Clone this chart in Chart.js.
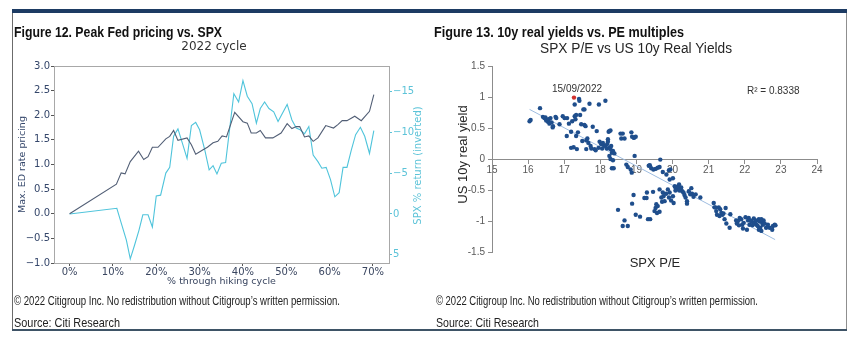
<!DOCTYPE html>
<html><head><meta charset="utf-8">
<script src="https://cdn.jsdelivr.net/npm/chart.js@4"></script>
<style>
html,body{margin:0;padding:0;background:#fff;}
#page{position:relative;width:853px;height:337px;overflow:hidden;background:#fff;}
.t{position:absolute;white-space:nowrap;line-height:1;}
canvas{position:absolute;top:0;}
</style></head><body>
<div id="page">
 <div style="position:absolute;left:12px;top:9px;width:835px;height:4px;background:#1d3b63"></div>
 <div style="position:absolute;left:12px;top:13px;width:1px;height:316px;background:#6b6b6b"></div>
 <div style="position:absolute;left:846px;top:13px;width:1px;height:316px;background:#8f8f8f"></div>
 <div style="position:absolute;left:12px;top:329px;width:835px;height:2px;background:#3e5366"></div>
 <canvas id="c1" width="430" height="337" style="left:0"></canvas>
 <canvas id="c2" width="423" height="337" style="left:430px"></canvas>
</div>
<script>
// ---------- Figure 12 data ----------
const pctTicks = [0, 10, 20, 30, 40, 50, 60, 70];
const fedTicks = [-1.0, -0.5, 0, 0.5, 1.0, 1.5, 2.0, 2.5, 3.0];
const spxTicks = [-15, -10, -5, 0, 5];
const pctFed = [0, 10.8, 11.9, 12.8, 14.0, 15.9, 17.1, 18.1, 19.1, 20.4, 22.2, 23.1, 24.0, 25.0, 27.1, 28.1, 29.1, 30.8, 31.8, 33.1, 34.2, 35.2, 36.2, 38.1, 40.0, 41.0, 41.9, 43.1, 44.0, 45.2, 46.9, 48.8, 50.2, 51.3, 52.3, 53.1, 54.2, 55.2, 56.2, 57.3, 59.1, 60.9, 61.9, 62.9, 64.0, 65.8, 67.3, 69.2, 70.2];
const fedPricing = [0.0, 0.60, 0.83, 0.81, 1.06, 1.27, 1.10, 1.16, 1.35, 1.35, 1.52, 1.57, 1.69, 1.49, 1.54, 1.40, 1.21, 1.30, 1.35, 1.44, 1.47, 1.58, 1.56, 2.06, 1.87, 1.84, 1.64, 1.64, 1.69, 1.54, 1.54, 1.64, 1.83, 1.73, 1.77, 1.77, 1.56, 1.58, 1.47, 1.54, 1.79, 1.74, 1.81, 1.89, 1.89, 1.98, 1.89, 2.08, 2.42];
const pctSpx = [0, 10.9, 11.9, 13.1, 14.0, 15.0, 16.0, 16.9, 18.1, 19.1, 20.0, 21.0, 22.2, 23.1, 24.0, 25.0, 26.0, 27.1, 28.1, 29.1, 30.0, 31.2, 32.2, 33.1, 34.0, 35.0, 36.0, 37.9, 39.0, 40.0, 41.0, 42.1, 43.1, 44.0, 45.0, 46.0, 47.1, 48.1, 50.2, 51.3, 52.3, 53.2, 54.2, 55.2, 56.2, 57.3, 58.2, 59.2, 60.2, 61.2, 62.2, 63.1, 64.0, 65.0, 66.0, 67.1, 68.1, 69.2, 70.2];
const spxReturn = [0, -0.7, 1.1, 3.2, 5.5, 3.8, 2.0, 0.1, 0.1, 1.6, -2.2, -2.3, -5.0, -5.7, -9.5, -10.4, -8.7, -6.8, -10.8, -11.2, -10.3, -7.8, -5.4, -5.9, -4.9, -6.2, -6.3, -14.7, -13.7, -16.3, -14.4, -13.5, -11.1, -12.9, -13.7, -12.9, -12.5, -11.3, -13.4, -11.5, -10.5, -10.3, -9.8, -10.7, -7.2, -6.4, -5.6, -5.7, -4.2, -2.1, -2.6, -5.7, -5.7, -7.8, -9.7, -10.6, -9.5, -7.4, -10.2];

// ---------- Figure 13 data ----------
const peTicks = [15, 16, 17, 18, 19, 20, 21, 22, 23, 24];
const yldTicks = [-1.5, -1, -0.5, 0, 0.5, 1, 1.5];
const peX = [16.04,16.07,16.33,16.41,16.45,16.48,16.50,16.55,16.57,16.59,16.62,16.65,16.68,16.69,16.76,16.78,16.87,16.96,17.01,17.07,17.08,17.13,17.19,17.19,17.22,17.26,17.29,17.29,17.31,17.33,17.33,17.35,17.38,17.41,17.42,17.44,17.47,17.50,17.53,17.56,17.56,17.59,17.61,17.61,17.64,17.67,17.70,17.73,17.75,17.79,17.84,17.87,17.90,17.95,17.96,17.98,18.02,18.05,18.07,18.10,18.14,18.14,18.18,18.19,18.21,18.21,18.23,18.25,18.28,18.25,18.28,18.30,18.32,18.35,18.39,18.25,18.28,18.35,18.32,18.37,18.56,18.58,18.62,18.67,18.86,18.88,18.93,18.98,18.95,
 18.72,18.76,18.84,18.87,19.34,19.37,19.41,19.47,19.53,19.59,19.64,19.66,19.73,19.83,19.90,19.94,19.92,20.01,
 18.49,18.62,18.67,18.76,18.88,18.92,18.98,19.10,19.22,19.28,19.29,19.32,19.38,19.46,19.50,19.53,19.55,19.57,19.59,19.64,19.64,19.69,19.71,19.73,19.75,19.78,19.82,19.87,19.90,19.92,19.96,20.01,20.03,20.06,20.08,20.10,20.12,20.15,20.18,20.21,20.24,20.27,20.30,20.33,20.36,20.40,20.45,20.49,20.52,20.54,20.58,20.77,20.40,20.64,20.08,20.19,
 21.14,21.16,21.19,21.21,21.23,21.28,21.32,21.35,21.38,21.41,21.44,21.47,21.49,21.60,21.58,21.30,21.76,21.78,21.81,21.84,21.86,21.90,21.93,21.95,21.97,22.02,22.06,22.09,22.11,22.13,22.15,22.18,22.21,22.23,22.25,22.27,22.30,22.32,22.34,22.36,22.39,22.41,22.43,22.46,22.48,22.50,22.52,22.55,22.46,22.39,22.59,22.69,22.78,22.83,22.85,22.76,22.64];
const realYld = [0.61,0.63,0.82,0.68,0.66,0.67,0.62,0.60,0.64,0.57,0.66,0.59,0.51,0.53,0.68,0.66,0.56,0.69,0.66,0.37,0.66,0.57,0.44,0.18,0.61,0.19,0.88,0.69,0.64,0.71,0.37,0.16,0.43,0.97,0.94,0.71,0.56,0.29,0.80,0.80,0.55,0.53,0.16,0.30,0.33,0.26,0.89,0.21,0.17,0.52,0.16,0.14,0.45,0.18,0.88,0.28,0.24,0.17,0.26,0.22,0.94,0.21,0.17,0.24,0.32,0.28,0.44,0.45,0.46,0.18,0.16,0.21,0.10,0.13,0.09,0.05,0.00,-0.02,-0.15,-0.15,0.41,0.33,0.41,0.33,0.43,0.36,0.34,0.36,0.05,
 -0.09,-0.13,-0.17,-0.22,-0.11,-0.10,-0.15,-0.17,-0.16,-0.14,-0.13,-0.01,-0.21,-0.25,-0.18,-0.17,-0.33,-0.31,
 -0.82,-1.08,-0.99,-1.08,-0.72,-0.58,-0.90,-0.93,-0.63,-0.63,-0.54,-0.97,-0.97,-0.53,-0.84,-0.79,-0.73,-0.87,-0.76,-0.85,-0.49,-0.62,-0.69,-0.54,-0.60,-0.68,-0.56,-0.49,-0.62,-0.54,-0.67,-0.60,-0.71,-0.44,-0.46,-0.45,-0.49,-0.45,-0.41,-0.49,-0.46,-0.52,-0.54,-0.58,-0.62,-0.68,-0.52,-0.57,-0.47,-0.56,-0.61,-0.62,-0.72,-0.57,-0.51,-0.51,
 -0.71,-0.78,-0.78,-0.84,-0.90,-0.78,-0.81,-0.87,-0.90,-0.88,-0.97,-0.79,-1.04,-0.89,-1.11,-0.92,-0.99,-1.04,-1.00,-1.07,-0.95,-0.97,-1.06,-1.12,-1.03,-0.94,-1.14,-0.99,-0.95,-1.06,-0.99,-1.00,-1.07,-1.03,-0.96,-1.04,-1.00,-1.06,-0.99,-1.08,-0.97,-1.01,-1.11,-1.16,-1.03,-1.06,-0.99,-1.04,-0.97,-1.14,-1.11,-1.11,-1.08,-1.06,-1.07,-1.14,-1.06];
const highlightPE = [17.27];
const highlightYld = [0.99];
const trendPE = [16.04, 22.84];
const trendYld = [0.80, -1.30];

// ---------- helpers ----------
const DJ = '"DejaVu Sans", sans-serif';
const ARIAL = '"Liberation Sans", Arial, sans-serif';
const NARROW = '"Liberation Sans Narrow", "Arial Narrow", "Liberation Sans", Arial, sans-serif';
const page = document.getElementById('page');
function txt(str, o) {
  const d = document.createElement('div');
  d.className = 't';
  d.textContent = str;
  d.style.font = o.font;
  d.style.color = o.color || '#222';
  page.appendChild(d);
  const r = d.getBoundingClientRect();
  const w = r.width, h = r.height;
  const sx = o.w ? o.w / w : 1;
  if (o.rot) {
    d.style.left = (o.cx - w / 2) + 'px';
    d.style.top = (o.cy - h / 2) + 'px';
    d.style.transformOrigin = '50% 50%';
    d.style.transform = 'rotate(-90deg) scaleX(' + sx + ')';
  } else if (o.cx !== undefined) {
    d.style.left = (o.cx - w / 2) + 'px';
    d.style.top = o.top + 'px';
    d.style.transformOrigin = '50% 50%';
    d.style.transform = 'scaleX(' + sx + ')';
  } else {
    d.style.left = o.x + 'px';
    d.style.top = o.top + 'px';
    d.style.transformOrigin = '0 50%';
    d.style.transform = 'scaleX(' + sx + ')';
  }
}
const setTicks = arr => s => { s.ticks = arr.map(v => ({ value: v })); };
const uminus = (v, d) => (v < 0 ? '\u2212' : '') + (d === undefined ? String(Math.abs(v)) : Math.abs(v).toFixed(d));

// ---------- texts ----------
txt('Figure 12. Peak Fed pricing vs. SPX', { font: 'bold 15px ' + NARROW, color: '#111', x: 14, top: 23, w: 208 });
txt('Figure 13. 10y real yields vs. PE multiples', { font: 'bold 15px ' + NARROW, color: '#111', x: 434, top: 23, w: 250 });
txt('2022 cycle', { font: '12px ' + DJ, color: '#333', cx: 214, top: 39 });
txt('SPX P/E vs US 10y Real Yields', { font: '14px ' + ARIAL, color: '#262626', cx: 636, top: 40, w: 192 });
txt('SPX P/E', { font: '13px ' + ARIAL, color: '#262626', cx: 655, top: 255 });
txt('US 10y real yield', { font: '13px ' + ARIAL, color: '#262626', rot: true, cx: 462, cy: 154 });
txt('SPX % return (inverted)', { font: '10px ' + DJ, color: '#5cc3d8', rot: true, cx: 417, cy: 165 });
txt('15/09/2022', { font: '10px ' + ARIAL, color: '#333', x: 552, top: 83 });
txt('R\u00B2 = 0.8338', { font: '10px ' + ARIAL, color: '#333', x: 747, top: 85 });
txt('\u00A9 2022 Citigroup Inc. No redistribution without Citigroup\u2019s written permission.', { font: '12px ' + NARROW, color: '#222', x: 14, top: 294, w: 326 });
txt('\u00A9 2022 Citigroup Inc. No redistribution without Citigroup\u2019s written permission.', { font: '12px ' + NARROW, color: '#222', x: 436, top: 294, w: 322 });
txt('Source: Citi Research', { font: '13px ' + NARROW, color: '#222', x: 14, top: 314.5, w: 106 });
txt('Source: Citi Research', { font: '13px ' + NARROW, color: '#222', x: 436, top: 314.5, w: 103 });

// ---------- Figure 12 chart ----------
const NAVY = '#34466a', CYAN = '#4fc4db', SPINE = '#a8a8a8';
new Chart(document.getElementById('c1'), {
  type: 'line',
  data: {
    datasets: [
      { data: pctFed.map((x, i) => ({ x, y: fedPricing[i] })), borderColor: '#515e75', borderWidth: 1.1, pointRadius: 0, yAxisID: 'y', xAxisID: 'x', tension: 0 },
      { data: pctSpx.map((x, i) => ({ x, y: spxReturn[i] })), borderColor: CYAN, borderWidth: 1.1, pointRadius: 0, yAxisID: 'y2', xAxisID: 'x', tension: 0 }
    ]
  },
  options: {
    responsive: false, animation: false, devicePixelRatio: 1,
    layout: { padding: { top: 66, bottom: 46, left: 0, right: 0 } },
    plugins: { legend: { display: false }, tooltip: { enabled: false } },
    scales: {
      x: {
        type: 'linear', position: 'bottom', min: -3.6, max: 73.7,
        afterBuildTicks: setTicks(pctTicks), afterFit: s => { s.height = 28; },
        ticks: { callback: v => v + '%', color: '#3a4660', font: { family: DJ, size: 10 }, padding: 0, maxRotation: 0 },
        grid: { drawOnChartArea: false, drawTicks: true, tickLength: 3, color: '#555' },
        border: { display: true, color: SPINE },
        title: { display: true, text: '% through hiking cycle', color: '#3a4660', font: { family: DJ, size: 9.5 }, padding: { top: 4, bottom: 4 } }
      },
      xTop: {
        type: 'linear', position: 'top', min: -3.6, max: 73.7, afterFit: s => { s.height = 0; },
        ticks: { display: false }, grid: { drawOnChartArea: false, drawTicks: false }, border: { display: true, color: SPINE }
      },
      y: {
        type: 'linear', position: 'left', min: -1.0, max: 3.0,
        afterBuildTicks: setTicks(fedTicks), afterFit: s => { s.width = 54; },
        ticks: { callback: v => uminus(v, 1), color: NAVY, font: { family: DJ, size: 10 }, padding: 1 },
        grid: { drawOnChartArea: false, drawTicks: true, tickLength: 3, color: '#555' },
        border: { display: true, color: SPINE },
        title: { display: true, text: 'Max. ED rate pricing', color: NAVY, font: { family: DJ, size: 9.5 }, padding: { top: 17, bottom: 0 } }
      },
      y2: {
        type: 'linear', position: 'right', reverse: true, min: -18.1, max: 6.0,
        afterBuildTicks: setTicks(spxTicks), afterFit: s => { s.width = 41; },
        ticks: { callback: v => uminus(v), color: '#5cc3d8', font: { family: DJ, size: 10 }, padding: 1 },
        grid: { drawOnChartArea: false, drawTicks: true, tickLength: 3, color: '#5cc3d8' },
        border: { display: true, color: SPINE }
      }
    }
  }
});

// ---------- Figure 13 chart ----------
const AXIS = '#8c8c8c', LBL = '#595959';
new Chart(document.getElementById('c2'), {
  type: 'scatter',
  data: {
    datasets: [
      { type: 'line', data: trendPE.map((x, i) => ({ x, y: trendYld[i] })), borderColor: '#9fbde0', borderWidth: 1, pointRadius: 0, order: 3 },
      { data: peX.map((x, i) => ({ x, y: realYld[i] })), backgroundColor: '#1f4e8c', borderWidth: 0, pointRadius: 2.2, order: 2 },
      { data: highlightPE.map((x, i) => ({ x, y: highlightYld[i] })), backgroundColor: '#d0312d', borderWidth: 0, pointRadius: 2.2, order: 1 }
    ]
  },
  options: {
    responsive: false, animation: false, devicePixelRatio: 1,
    layout: { padding: { top: 66, bottom: 85, left: 0, right: 36 } },
    plugins: { legend: { display: false }, tooltip: { enabled: false } },
    scales: {
      x: {
        type: 'linear', position: { y: 0 }, min: 15, max: 24,
        afterBuildTicks: setTicks(peTicks),
        ticks: { color: LBL, font: { family: ARIAL, size: 10 }, padding: 1, maxRotation: 0 },
        grid: { drawOnChartArea: false, drawTicks: true, tickLength: 4, color: AXIS },
        border: { display: true, color: AXIS }
      },
      y: {
        type: 'linear', position: 'left', min: -1.5, max: 1.5,
        afterBuildTicks: setTicks(yldTicks), afterFit: s => { s.width = 62; },
        ticks: { callback: v => String(v), color: LBL, font: { family: ARIAL, size: 10 }, padding: 3 },
        grid: { drawOnChartArea: false, drawTicks: true, tickLength: 4, color: AXIS },
        border: { display: true, color: AXIS }
      }
    }
  }
});
</script>
</body></html>
